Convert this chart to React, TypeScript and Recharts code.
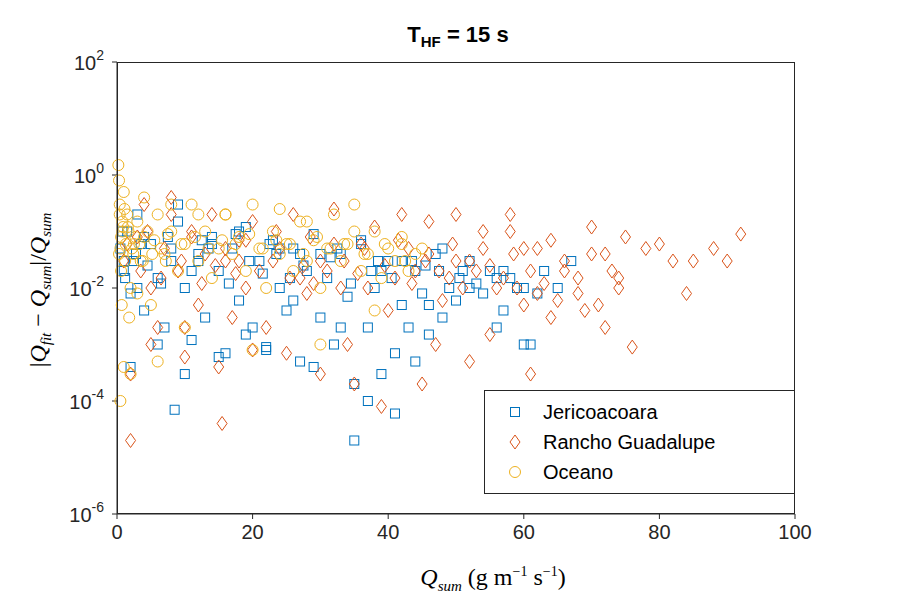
import React from 'react';
import { ScatterChart, Scatter, XAxis, YAxis } from 'recharts';

const jeriX = [0.5,1,1.5,2,2.5,3,4,5,6,7,8,9,10,11,12,13,14,15,16,17,18,19,20,21,22,23,24,25,26,27,28,29,30,31,32,33,34,35,36,37,38,39,40,41,42,43,44,45,46,47,48,49,50,52,54,56,58,60,61,63,65,67,8.5,35,41,37,2,10,15,22,29,44,3,6,12,19,26,33,39,46,52,57,1,4,9,14,18,24,30,36,42,48,55,60,
  1.2,2.8,4.5,6.5,8,11,13.5,16.5,19.5,21.5,23.5,25.5,27.5,31.5,34.5,37.5,40.5,43.5,47.5,50.5,53,57,59,62,0.8,3.5,7.5,12.5,17.5,22.5,27,32.5,38.5,45.5,51,56];
const jeriY = [0.05,0.02,0.1,0.008,0.03,0.2,0.004,0.06,0.015,0.002,0.05,0.3,0.01,0.0012,0.04,0.003,0.08,0.02,0.0007,0.05,0.006,0.12,0.002,0.03,0.0009,0.07,0.01,0.004,0.05,0.0005,0.02,0.09,0.003,0.015,0.001,0.04,0.007,0.0002,0.06,0.002,0.01,0.0003,0.03,0.0007,0.005,0.002,0.02,0.008,0.0015,0.04,0.003,0.01,0.006,0.03,0.008,0.002,0.015,0.001,0.001,0.02,0.01,0.03,0.00007,0.00002,0.00006,0.0001,0.0004,0.0003,0.0006,0.0008,0.0004,0.0005,0.01,0.001,0.03,0.0015,0.006,0.002,0.02,0.005,0.01,0.004,0.03,0.08,0.15,0.06,0.1,0.05,0.04,0.07,0.03,0.05,0.02,0.01,
  0.015,0.04,0.025,0.012,0.03,0.02,0.05,0.012,0.03,0.018,0.04,0.015,0.025,0.035,0.012,0.02,0.015,0.03,0.02,0.015,0.012,0.02,0.01,0.008,0.1,0.06,0.08,0.07,0.09,0.06,0.04,0.05,0.03,0.025,0.02,0.015];
const ranchoX = [1,2,3,4,5,6,7,8,9,10,11,12,13,14,15,16,17,18,19,20,22,24,26,28,30,32,34,36,38,40,42,44,46,48,50,52,54,56,58,60,62,64,66,68,70,71,72,73,74,75,76,78,80,82,84,85,88,90,92,2,15.5,39,45,52,61,64,69,72,74,30,35,25,5,10,20,47,55,60,65,68,58,62,66,70,8,18,27,33,43,50,
  3.5,6.5,9.5,12.5,14.5,17.5,21,23,25.5,27.5,29,31,33.5,35.5,37,39.5,41,43.5,45.5,47.5,49,51,53,55,57,59,61,63,1.5,4.5,11,16,19,23.5,28.5,32,36.5,41.5,46,49.5,54,58.5];
const ranchoY = [0.03,0.00002,0.08,0.3,0.01,0.002,0.05,0.4,0.02,0.0006,0.1,0.005,0.04,0.2,0.0004,0.03,0.003,0.07,0.01,0.15,0.002,0.05,0.2,0.008,0.03,0.25,0.001,0.06,0.12,0.004,0.2,0.02,0.15,0.006,0.2,0.03,0.1,0.01,0.2,0.05,0.008,0.07,0.03,0.015,0.12,0.005,0.04,0.02,0.015,0.08,0.0009,0.05,0.06,0.03,0.008,0.03,0.05,0.03,0.09,0.0003,0.00004,0.00008,0.0002,0.0005,0.0003,0.003,0.004,0.002,0.01,0.0003,0.0002,0.0007,0.001,0.002,0.0008,0.001,0.0015,0.005,0.006,0.008,0.1,0.05,0.02,0.04,0.2,0.03,0.015,0.01,0.05,0.03,
  0.02,0.015,0.03,0.012,0.025,0.018,0.02,0.03,0.015,0.025,0.012,0.02,0.03,0.018,0.01,0.025,0.015,0.012,0.03,0.02,0.015,0.01,0.02,0.025,0.015,0.01,0.02,0.012,0.06,0.1,0.08,0.05,0.07,0.1,0.08,0.06,0.05,0.07,0.04,0.06,0.05,0.04];
const oceX = [0.2,0.3,0.4,0.5,0.6,0.8,1,1.2,1.5,2,2.5,3,3.5,4,5,6,7,8,9,10,11,12,13,14,15,16,17,18,19,20,21,22,23,24,25,26,27,28,29,30,31,32,33,34,35,36,37,38,39,40,41,42,43,44,45,0.5,1,2,6,0.7,1.8,3,10,20,30,38,12,24,35,4,8,16,28,42,
  0.3,0.6,0.9,1.3,1.7,2.2,2.7,3.3,4.5,5.5,6.5,7.5,9.5,11.5,13.5,15.5,17.5,19.5,21.5,23.5,25.5,27.5,29.5,31.5,33.5,36.5,39.5,42.5,0.4,0.8,1.1,1.6,2.4,3.8,5.2,7.2];
const oceY = [1.5,0.8,0.3,0.05,0.02,0.1,0.5,0.03,0.2,0.01,0.06,0.15,0.03,0.08,0.005,0.2,0.04,0.1,0.02,0.06,0.3,0.03,0.1,0.015,0.05,0.2,0.04,0.08,0.02,0.3,0.05,0.01,0.1,0.04,0.06,0.02,0.15,0.03,0.07,0.01,0.05,0.2,0.03,0.06,0.3,0.02,0.04,0.1,0.015,0.05,0.03,0.08,0.02,0.04,0.05,0.0001,0.0004,0.0003,0.0005,0.005,0.003,0.008,0.002,0.0008,0.001,0.004,0.2,0.25,0.1,0.4,0.3,0.2,0.15,0.06,
  0.04,0.08,0.12,0.06,0.1,0.05,0.08,0.06,0.1,0.07,0.05,0.09,0.06,0.08,0.05,0.07,0.06,0.09,0.05,0.07,0.06,0.04,0.08,0.05,0.06,0.04,0.06,0.03,0.2,0.15,0.25,0.12,0.04,0.03,0.04,0.03];

const mk = (xs: number[], ys: number[]) => xs.map((x, i) => ({ x, y: ys[i] }));
const jeri = mk(jeriX, jeriY);
const rancho = mk(ranchoX, ranchoY);
const oceano = mk(oceX, oceY);

const BLUE = '#0072BD', ORANGE = '#D95319', YELLOW = '#EDB120';

const Square = (p: any) => <rect x={p.cx - 4.5} y={p.cy - 4.5} width={9} height={9} fill="none" stroke={BLUE} strokeWidth={1} />;
const Diamond = (p: any) => <path d={`M${p.cx},${p.cy - 7}L${p.cx + 5},${p.cy}L${p.cx},${p.cy + 7}L${p.cx - 5},${p.cy}Z`} fill="none" stroke={ORANGE} strokeWidth={1} />;
const Circle = (p: any) => <circle cx={p.cx} cy={p.cy} r={5.5} fill="none" stroke={YELLOW} strokeWidth={1} />;

const YTick = (p: any) => {
  const e = Math.round(Math.log10(p.payload.value));
  return (
    <text x={p.x - 6} y={p.y + 8} textAnchor="end" fontSize={20} fill="#262626" fontFamily="Helvetica, Arial, sans-serif">
      10<tspan dy={-10} fontSize={14}>{e}</tspan>
    </text>
  );
};

const LegendBox = () => (
  <div style={{ position: 'absolute', left: 476, top: 382, width: 311, height: 104, border: '1px solid #262626', background: '#fff', fontFamily: 'Helvetica, Arial, sans-serif', fontSize: 20, color: '#000', boxSizing: 'border-box', paddingTop: 6 }}>
    {[['Jericoacoara', 0], ['Rancho Guadalupe', 1], ['Oceano', 2]].map(([t, i]) => (
      <div key={t as string} style={{ display: 'flex', alignItems: 'center', height: 30 }}>
        <svg width={40} height={20} style={{ marginLeft: 10 }}>
          {i === 0 && <rect x={15.5} y={5.5} width={9} height={9} fill="none" stroke={BLUE} />}
          {i === 1 && <path d="M20,3L25,10L20,17L15,10Z" fill="none" stroke={ORANGE} />}
          {i === 2 && <circle cx={20} cy={10} r={5.5} fill="none" stroke={YELLOW} />}
        </svg>
        <span style={{ marginLeft: 8 }}>{t}</span>
      </div>
    ))}
  </div>
);

export default function App() {
  return (
    <div style={{ position: 'relative', width: 900, height: 600, background: '#fff' }}>
      <div style={{ position: 'absolute', top: 14, left: 0, width: 900, textAlign: 'center', fontFamily: 'Helvetica, Arial, sans-serif', fontWeight: 'bold', fontSize: 22 }}>
        T<sub style={{ fontSize: 15 }}>HF</sub> = 15 s
      </div>
      <ScatterChart width={900} height={600} margin={{ top: 54, right: 113, bottom: 64, left: 49 }}>
        <XAxis type="number" dataKey="x" domain={[0, 100]} ticks={[0, 20, 40, 60, 80, 100]} stroke="#262626"
          tick={{ fontSize: 20, fill: '#262626', fontFamily: 'Helvetica, Arial, sans-serif' }} tickSize={5} tickMargin={6} height={30} />
        <YAxis type="number" dataKey="y" scale="log" domain={[1e-6, 100]} ticks={[1e-6, 1e-4, 1e-2, 1, 100]} allowDataOverflow
          stroke="#262626" width={60} tick={<YTick />} tickSize={5} />
        <Scatter data={jeri} shape={<Square />} isAnimationActive={false} />
        <Scatter data={rancho} shape={<Diamond />} isAnimationActive={false} />
        <Scatter data={oceano} shape={<Circle />} isAnimationActive={false} />
      </ScatterChart>
      <div style={{ position: 'absolute', left: 109, top: 54, width: 678, height: 452, border: '1px solid #262626', boxSizing: 'border-box', pointerEvents: 'none' }} />
      <LegendBox />
      <div style={{ position: 'absolute', top: 556, left: 0, width: 900, paddingLeft: 70, boxSizing: 'border-box', textAlign: 'center', fontFamily: '"Liberation Serif", "DejaVu Serif", serif', fontSize: 24 }}>
        <i>Q</i><sub style={{ fontSize: 15 }}><i>sum</i></sub> (g m<sup style={{ fontSize: 14 }}>−1</sup> s<sup style={{ fontSize: 14 }}>−1</sup>)
      </div>
      <div style={{ position: 'absolute', left: 32, top: 282, transform: 'translate(-50%,-50%) rotate(-90deg)', whiteSpace: 'nowrap', fontFamily: '"Liberation Serif", "DejaVu Serif", serif', fontSize: 24 }}>
        |<i>Q</i><sub style={{ fontSize: 15 }}><i>fit</i></sub> − <i>Q</i><sub style={{ fontSize: 15 }}><i>sum</i></sub>|/<i>Q</i><sub style={{ fontSize: 15 }}><i>sum</i></sub>
      </div>
    </div>
  );
}
